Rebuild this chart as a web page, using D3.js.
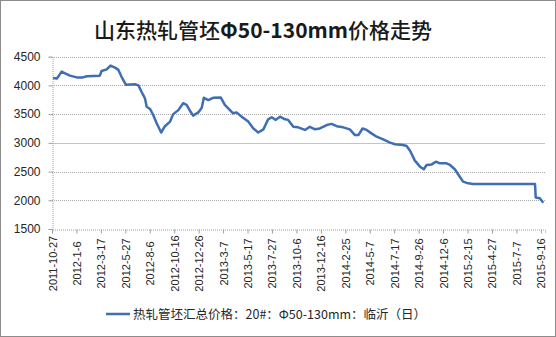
<!DOCTYPE html>
<html>
<head>
<meta charset="utf-8">
<script src="https://cdn.jsdelivr.net/npm/d3@7"></script>
<style>
  html, body { margin: 0; padding: 0; background: #fff; }
  svg { display: block; }
</style>
</head>
<body>
<svg id="chart" width="556" height="337"></svg>
<script>
// Daily billet price, Linyi (CNY/t)
const dates = [
  "2011-10-30","2011-11-10","2011-11-16","2011-11-24","2011-12-04","2011-12-18",
  "2012-01-07","2012-01-25","2012-02-05","2012-03-14","2012-03-19","2012-04-03",
  "2012-04-14","2012-04-27","2012-05-07","2012-05-16","2012-05-29","2012-06-24",
  "2012-07-04","2012-07-13","2012-07-23","2012-07-28","2012-08-07","2012-08-16",
  "2012-08-26","2012-09-08","2012-09-19","2012-10-04","2012-10-13","2012-10-28",
  "2012-11-11","2012-11-21","2012-12-01","2012-12-10","2012-12-25","2013-01-04",
  "2013-01-10","2013-01-23","2013-02-06","2013-02-28","2013-03-12","2013-03-27",
  "2013-04-05","2013-04-15","2013-04-30","2013-05-19","2013-06-03","2013-06-17",
  "2013-07-02","2013-07-16","2013-07-26","2013-08-07","2013-08-19","2013-09-03",
  "2013-09-12","2013-09-27","2013-10-11","2013-10-31","2013-11-14","2013-11-29",
  "2013-12-13","2014-01-02","2014-01-16","2014-01-31","2014-02-19","2014-03-10",
  "2014-03-25","2014-04-04","2014-04-16","2014-04-28","2014-05-12","2014-05-27",
  "2014-06-15","2014-07-05","2014-07-19","2014-08-12","2014-08-22","2014-09-01",
  "2014-09-15","2014-09-30","2014-10-11","2014-10-19","2014-11-03","2014-11-15",
  "2014-11-27","2014-12-16","2014-12-26","2015-01-09","2015-01-22","2015-02-02",
  "2015-02-17","2015-03-03","2015-08-30","2015-09-01","2015-09-13","2015-09-23"
];
const prices = [
  4130,4120,4170,4240,4210,4170,
  4140,4140,4160,4170,4250,4280,
  4345,4310,4270,4150,4010,4020,
  4000,3890,3775,3630,3590,3485,
  3340,3180,3290,3370,3500,3570,
  3690,3660,3555,3475,3530,3610,
  3785,3745,3785,3790,3660,3570,
  3515,3530,3455,3370,3250,3180,
  3235,3410,3445,3400,3455,3410,
  3400,3280,3270,3225,3280,3235,
  3250,3310,3330,3290,3270,3235,
  3135,3135,3250,3225,3165,3107,
  3060,3003,2975,2962,2945,2863,
  2690,2585,2540,2615,2625,2672,
  2643,2643,2615,2540,2423,2325,
  2295,2283,2283,2050,2035,1958
];
const tickLabels = [
  "2011-10-27","2012-1-6","2012-3-17","2012-5-27","2012-8-6","2012-10-16",
  "2012-12-26","2013-3-7","2013-5-17","2013-7-27","2013-10-6","2013-12-16",
  "2014-2-25","2014-5-7","2014-7-17","2014-9-26","2014-12-6","2015-2-15",
  "2015-4-27","2015-7-7","2015-9-16"
];
const xDomain = ["2011-10-27","2015-9-28"];
const yTicks = [1500,2000,2500,3000,3500,4000,4500];
// title pieces: [text, bold?]
const titleParts = [["山东热轧管坯", false], ["Φ50-130mm", true], ["价格走势", false]];
const legendText = "热轧管坯汇总价格：20#：Φ50-130mm：临沂（日）";

const parse = d3.timeParse("%Y-%m-%d");
const series = dates.map((d, i) => ({ date: parse(d), value: prices[i] }));
const ticks = tickLabels.map(t => ({ label: t, date: parse(t.replace(/-(\d)(?=-|$)/g, "-0$1")) }));

const W = 556, H = 337;
const plot = { left: 52, right: 545, top: 56.7, bottom: 229 };
const svg = d3.select("#chart");

// outer frame
svg.append("rect")
  .attr("x", 0.5).attr("y", 0.5).attr("width", W - 1).attr("height", H - 1)
  .attr("fill", "#fff").attr("stroke", "#8c8c8c").attr("stroke-width", 1);

const x = d3.scaleTime().domain(xDomain.map(parse)).range([plot.left, plot.right]);
const y = d3.scaleLinear().domain([1500, 4500]).range([plot.bottom, plot.top]);

// title
svg.append("text")
  .attr("x", 263).attr("y", 37.5)
  .attr("text-anchor", "middle")
  .attr("font-family", "'Noto Sans CJK SC', sans-serif")
  .attr("font-size", 21)
  .attr("fill", "#1a1a1a")
  .selectAll("tspan")
  .data(titleParts)
  .join("tspan")
  .attr("font-weight", d => d[1] ? "bold" : 500)
  .text(d => d[0]);

// horizontal gridlines
svg.append("g").selectAll("line")
  .data(yTicks.filter(v => v !== 1500))
  .join("line")
  .attr("x1", plot.left).attr("x2", plot.right)
  .attr("y1", d => Math.round(y(d)) + 0.5).attr("y2", d => Math.round(y(d)) + 0.5)
  .attr("stroke", d => d === 3000 ? "#c4c4c4" : "#a8a8a8")
  .attr("stroke-width", 1)
  .attr("stroke-dasharray", d => d === 3000 ? null : "1,1");

// y axis
const yAxis = d3.axisLeft(y).tickValues(yTicks).tickSize(4).tickPadding(8).tickFormat(d3.format("d"));
const gy = svg.append("g").attr("transform", `translate(${plot.left + 0.5},0)`).call(yAxis);
gy.select(".domain").attr("stroke", "#a0a0a0").attr("stroke-dasharray", "1,1");
gy.selectAll(".tick line").attr("stroke", "#a0a0a0");
gy.selectAll("text")
  .attr("font-family", "'Liberation Sans', Arial, sans-serif")
  .attr("font-size", 12).attr("fill", "#262626");

// x axis
const xAxis = d3.axisBottom(x).tickValues(ticks.map(t => t.date)).tickSize(4)
  .tickFormat((d, i) => ticks[i].label);
const gx = svg.append("g").attr("transform", `translate(0,${Math.round(plot.bottom) + 0.5})`).call(xAxis);
gx.select(".domain").attr("stroke", "#a0a0a0").attr("stroke-dasharray", "1,1");
gx.selectAll(".tick line").attr("stroke", "#a0a0a0");
gx.selectAll("text")
  .attr("font-family", "'Liberation Sans', Arial, sans-serif")
  .attr("font-size", 11).attr("fill", "#262626")
  .attr("text-anchor", "middle")
  .attr("dy", null)
  .attr("y", 0)
  .attr("transform", "translate(4,34) rotate(-90)");

// price line
const line = d3.line().x(d => x(d.date)).y(d => y(d.value)).curve(d3.curveLinear);
svg.append("path")
  .datum(series)
  .attr("d", line)
  .attr("fill", "none")
  .attr("stroke", "#3f6eb3")
  .attr("stroke-width", 2.5)
  .attr("stroke-linejoin", "round");

// legend
const lg = svg.append("g").attr("transform", "translate(106,314)");
lg.append("line").attr("x1", 0).attr("x2", 24).attr("y1", 0).attr("y2", 0)
  .attr("stroke", "#3f6eb3").attr("stroke-width", 2.5);
lg.append("text")
  .attr("x", 27).attr("y", 4.5)
  .attr("font-family", "'Noto Sans CJK SC', sans-serif")
  .attr("font-size", 12.5).attr("fill", "#262626")
  .text(legendText);
</script>
</body>
</html>
